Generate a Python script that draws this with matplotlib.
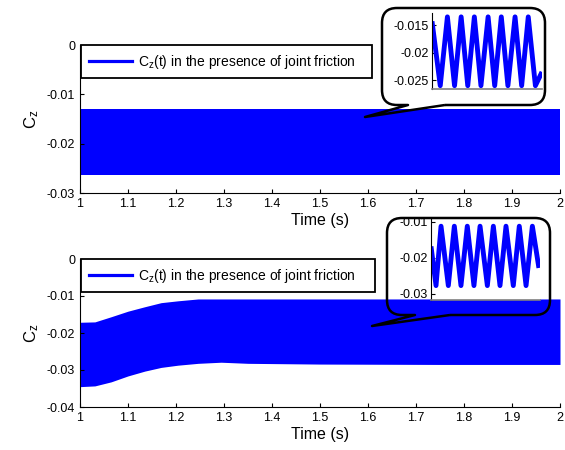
import numpy as np
import matplotlib
matplotlib.use("Agg")
import matplotlib.pyplot as plt
from matplotlib.path import Path
from matplotlib.patches import PathPatch
from matplotlib.ticker import FuncFormatter

plt.rcParams['font.family'] = ['Liberation Sans', 'DejaVu Sans']
plt.rcParams['mathtext.fontset'] = 'custom'
plt.rcParams['mathtext.rm'] = 'Liberation Sans'
plt.rcParams['mathtext.it'] = 'Liberation Sans'
plt.rcParams['axes.unicode_minus'] = False

# ---- data ----
# top panel: envelope of the fast oscillation (constant band)
t_top = [1.0, 2.0]
top_upper = [-0.0130, -0.0130]
top_lower = [-0.0264, -0.0264]

# bottom panel: envelope with the start-up transient
t_bot = [1.0, 1.031, 1.065, 1.10, 1.135, 1.169, 1.204, 1.246, 1.294, 1.35, 1.5, 1.75, 2.0]
bot_upper = [-0.0171, -0.0170, -0.0156, -0.0141, -0.0129, -0.0118, -0.0113, -0.0108,
             -0.0108, -0.0108, -0.0108, -0.0108, -0.0108]
bot_lower = [-0.0345, -0.0343, -0.0332, -0.0316, -0.0303, -0.0293, -0.0287, -0.0282,
             -0.0279, -0.0282, -0.0284, -0.0285, -0.0285]

# zoom windows (normalised time inside the window)
zoom1_t = [0.0, 0.075, 0.14, 0.205, 0.265, 0.325, 0.385, 0.445, 0.51, 0.57, 0.63, 0.69,
           0.755, 0.815, 0.875, 0.94, 1.0]
zoom1_c = [-0.0143, -0.0260, -0.0135, -0.0260, -0.0135, -0.0260, -0.0135, -0.0260,
           -0.0135, -0.0260, -0.0135, -0.0260, -0.0135, -0.0260, -0.0135, -0.0260, -0.0235]
zoom2_t = [0.0, 0.046, 0.092, 0.159, 0.214, 0.275, 0.333, 0.394, 0.45, 0.517, 0.572,
           0.633, 0.688, 0.755, 0.81, 0.872, 0.93, 0.99]
zoom2_c = [-0.0168, -0.0277, -0.0112, -0.0277, -0.0112, -0.0277, -0.0112, -0.0277,
           -0.0112, -0.0277, -0.0112, -0.0277, -0.0112, -0.0277, -0.0112, -0.0277,
           -0.0112, -0.0228]

x_ticks = [1.0, 1.1, 1.2, 1.3, 1.4, 1.5, 1.6, 1.7, 1.8, 1.9, 2.0]
label = r'C$_\mathrm{z}$(t) in the presence of joint friction'
blue = '#0000ff'

W, H = 565, 450
fig = plt.figure(figsize=(W / 100, H / 100), dpi=100)

fmt = FuncFormatter(lambda v, p: '0' if abs(v) < 1e-12 else f'{v:g}')


def style_axes(ax, yticks):
    for s in ('top', 'right'):
        ax.spines[s].set_visible(False)
    ax.tick_params(direction='in', length=3, labelsize=9, width=0.8)
    ax.set_xlim(1, 2)
    ax.set_xticks(x_ticks)
    ax.set_xticklabels([f'{v:g}' for v in x_ticks])
    ax.set_yticks(yticks)
    ax.yaxis.set_major_formatter(fmt)
    ax.set_xlabel('Time (s)', fontsize=11.5, labelpad=2)
    ax.set_ylabel(r'C$_\mathrm{z}$', fontsize=12, labelpad=4)


def add_legend(ax, x0, w):
    ax.plot([], [], color=blue, lw=2.3, label=label)
    leg = ax.legend(loc='upper left', bbox_to_anchor=(x0, 0.5, w, 0.5), mode='expand',
                    borderaxespad=0, fontsize=10, handlelength=3.1, handletextpad=0.45,
                    borderpad=0.55, fancybox=False, framealpha=1, edgecolor='black')
    leg.get_frame().set_linewidth(1.3)


# top panel
ax1 = fig.add_axes([80 / W, 1 - 193 / H, 480 / W, 148 / H])
ax1.fill_between(t_top, top_lower, top_upper, color=blue, lw=0)
ax1.set_ylim(-0.03, 0)
style_axes(ax1, [0, -0.01, -0.02, -0.03])
add_legend(ax1, 0.002, 0.606)

# bottom panel
ax2 = fig.add_axes([80 / W, 1 - 407 / H, 480 / W, 148 / H])
ax2.fill_between(t_bot, bot_lower, bot_upper, color=blue, lw=0)
ax2.set_ylim(-0.04, 0)
style_axes(ax2, [0, -0.01, -0.02, -0.03, -0.04])
add_legend(ax2, 0.002, 0.6125)


def inset(rect, t, c, ylim, yticks):
    ax = fig.add_axes(rect)
    ax.plot(t, c, color=blue, lw=3.5, solid_joinstyle='round', solid_capstyle='butt')
    ax.set_xlim(0, 1)
    ax.set_ylim(*ylim)
    ax.set_xticks([])
    ax.set_yticks(yticks)
    ax.yaxis.set_major_formatter(fmt)
    ax.tick_params(direction='in', length=3, labelsize=9, width=0.8, pad=2)
    for s in ('top', 'right'):
        ax.spines[s].set_visible(False)
    ax.spines['bottom'].set_color('#808080')
    ax.spines['bottom'].set_linewidth(1.2)
    return ax


inset([432 / W, 1 - 89 / H, 110 / W, 76 / H], zoom1_t, zoom1_c,
      (-0.0266, -0.0128), [-0.015, -0.02, -0.025])
inset([431 / W, 1 - 300 / H, 109 / W, 81 / H], zoom2_t, zoom2_c,
      (-0.0317, -0.0092), [-0.01, -0.02, -0.03])

# speech-bubble callouts drawn on a pixel overlay
ov = fig.add_axes([0, 0, 1, 1], zorder=10)
ov.set_xlim(0, W)
ov.set_ylim(H, 0)
ov.axis('off')


def bubble(x0, x1, y0, y1, r, bx0, bx1, tip):
    verts = [(bx1, y1), (x1 - r, y1), (x1, y1), (x1, y1 - r), (x1, y0 + r),
             (x1, y0), (x1 - r, y0), (x0 + r, y0), (x0, y0), (x0, y0 + r),
             (x0, y1 - r), (x0, y1), (x0 + r, y1), (bx0, y1), tip, (bx1, y1)]
    codes = [Path.MOVETO, Path.LINETO, Path.CURVE3, Path.CURVE3, Path.LINETO,
             Path.CURVE3, Path.CURVE3, Path.LINETO, Path.CURVE3, Path.CURVE3,
             Path.LINETO, Path.CURVE3, Path.CURVE3, Path.LINETO, Path.LINETO, Path.LINETO]
    ov.add_patch(PathPatch(Path(verts, codes), facecolor='none', edgecolor='black',
                           lw=1.8, joinstyle='round'))


bubble(382, 545, 8, 105, 15, 408, 445, (365, 117))
bubble(387, 550, 218, 315, 15, 415, 450, (372, 326))

fig.savefig('out.png', dpi=100)
